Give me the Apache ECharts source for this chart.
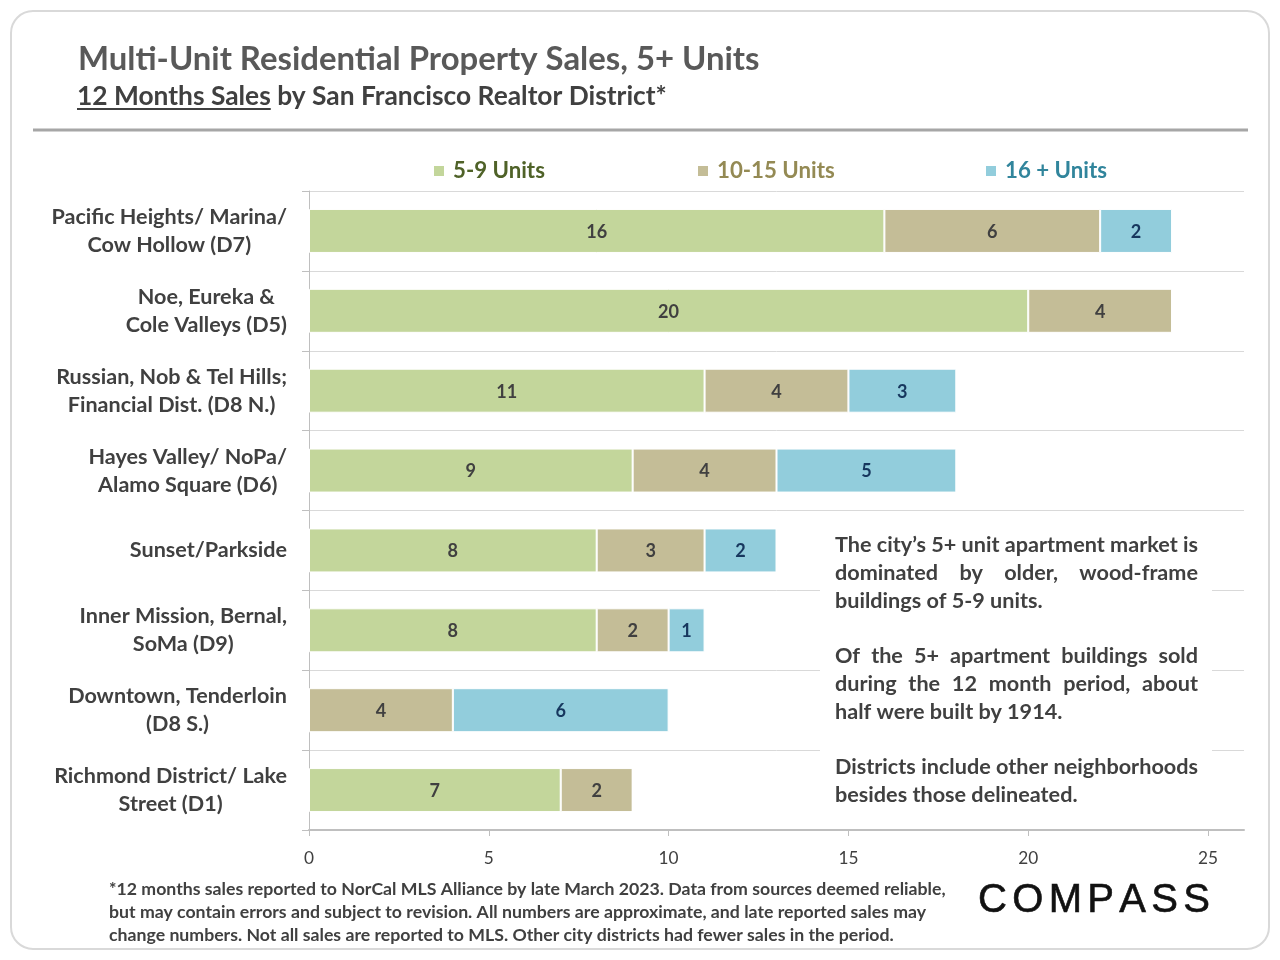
<!DOCTYPE html>
<html><head><meta charset="utf-8">
<script src="https://cdn.jsdelivr.net/npm/echarts@6/dist/echarts.min.js"></script>
<style>html,body{margin:0;padding:0;background:#fff}#c{width:1280px;height:960px}</style>
</head><body><div id="c"></div>
<script>
const categories = ["Pacific Heights/ Marina/\nCow Hollow (D7)", "Noe, Eureka &\nCole Valleys (D5)", "Russian, Nob & Tel Hills;\nFinancial Dist. (D8 N.)", "Hayes Valley/ NoPa/\nAlamo Square (D6)", "Sunset/Parkside", "Inner Mission, Bernal,\nSoMa (D9)", "Downtown, Tenderloin\n(D8 S.)", "Richmond District/ Lake\nStreet (D1)"];
const units5to9   = [16, 20, 11, 9, 8, 8, 0, 7];
const units10to15 = [6, 4, 4, 4, 3, 2, 4, 2];
const units16plus = [2, 0, 3, 5, 2, 1, 6, 0];
const seriesNames = ["5-9 Units", "10-15 Units", "16 + Units"];
const xTicks = [0, 5, 10, 15, 20, 25];
const titleText = "Multi-Unit Residential Property Sales, 5+ Units";
const subUnderlined = "12 Months Sales";
const subRest = " by San Francisco Realtor District*";
const noteParas = [
  ["The city\u2019s 5+ unit apartment market is", "dominated by older, wood-frame", "buildings of 5-9 units."],
  ["Of the 5+ apartment buildings sold", "during the 12 month period, about", "half were built by 1914."],
  ["Districts include other neighborhoods", "besides those delineated."]
];
const footLines = [
  "*12 months sales reported to NorCal MLS Alliance by late March 2023. Data from sources deemed reliable,",
  "but may contain errors and subject to revision. All numbers are approximate, and late reported sales may",
  "change numbers. Not all sales are reported to MLS. Other city districts had fewer sales in the period."
];

const F = 'Lato';
const colors = ['#c3d69b', '#c4bd97', '#92cddc'];
const legendColors = ['#4f6228', '#948a54', '#31859c'];
const labelColors = ['#404040', '#404040', '#17375e'];

const cv = document.createElement('canvas').getContext('2d');
function tw(text, size, weight) { cv.font = weight + ' ' + size + 'px ' + F; return cv.measureText(text).width; }
function fit(text, weight, target) { return 100 * target / tw(text, 100, weight); }

const graphics = [];
function T(text, x, y, size, weight, fill, align, z) {
  graphics.push({ type: 'text', z: z || 100, style: { text, x, y, fontSize: size, fontFamily: F, fontWeight: weight, fill, textAlign: align || 'left', align: align || 'left', textVerticalAlign: 'middle', verticalAlign: 'middle' } });
}
// card
graphics.push({ type: 'rect', z: 1, shape: { x: 11, y: 11, width: 1258, height: 938, r: 22 }, style: { fill: 'none', stroke: '#d9d9d9', lineWidth: 2 } });
// title
const titleSize = fit(titleText, 'bold', 682);
T(titleText, 78, 59, titleSize, 'bold', '#595959');
const subSize = fit(subUnderlined + subRest, 'bold', 590);
T(subUnderlined + subRest, 77, 96, subSize, 'bold', '#404040');
const ulW = tw(subUnderlined, subSize, 'bold');
graphics.push({ type: 'line', z: 100, shape: { x1: 77, y1: 109, x2: 77 + ulW, y2: 109 }, style: { stroke: '#404040', lineWidth: 2 } });
graphics.push({ type: 'line', z: 100, shape: { x1: 33, y1: 130, x2: 1248, y2: 130 }, style: { stroke: '#a6a6a6', lineWidth: 3 } });

// annotation box
graphics.push({ type: 'rect', z: 90, shape: { x: 820, y: 523, width: 392, height: 296 }, style: { fill: '#fff' } });
const noteSize = fit(noteParas[2][0], 'bold', 363);
const noteL = 835, noteR = 1198;
const paraY = [545, 656, 767];
noteParas.forEach((para, pi) => {
  para.forEach((line, li) => {
    const y = paraY[pi] + li * 28;
    const last = li === para.length - 1;
    if (last) { T(line, noteL, y, noteSize, 'bold', '#404040'); return; }
    const words = line.split(' ');
    const widths = words.map(w => tw(w, noteSize, 'bold'));
    const tot = widths.reduce((a, b) => a + b, 0);
    const gap = (noteR - noteL - tot) / (words.length - 1);
    let x = noteL;
    words.forEach((w, i) => { T(w, x, y, noteSize, 'bold', '#404040'); x += widths[i] + gap; });
  });
});

// footnote
const footSize = fit(footLines[0], 'bold', 837);
footLines.forEach((l, i) => T(l, 109, 889 + i * 23, footSize, 'bold', '#404040'));

// COMPASS logo with letter spacing
(function () {
  const word = 'COMPASS', size = 40, wt = 'normal';
  cv.font = wt + ' ' + size + 'px "Liberation Sans"';
  const ws = word.split('').map(c => cv.measureText(c).width);
  const tot = ws.reduce((a, b) => a + b, 0);
  const sp = (232 - tot) / (word.length - 1);
  let x = 978;
  word.split('').forEach((c, i) => {
    graphics.push({ type: 'text', z: 100, style: { text: c, x, y: 901, fontSize: size, fontFamily: 'Liberation Sans', fontWeight: wt, fill: '#111', stroke: '#111', lineWidth: 0.6, textAlign: 'left', align: 'left', textVerticalAlign: 'middle', verticalAlign: 'middle' } });
    x += ws[i] + sp;
  });
})();

const catSize = fit('Russian, Nob & Tel Hills;', 'bold', 231);
const barLabelSize = fit('20', 'bold', 21);
const axisLabelSize = fit('10', 'normal', 20);
const legendSize = fit(seriesNames[0], 'bold', 92);

const seriesData = [units5to9, units10to15, units16plus];
const chart = echarts.init(document.getElementById('c'), null, { renderer: 'canvas' });
const legendLefts = [427, 691, 979];
chart.setOption({
  animation: false,
  backgroundColor: '#fff',
  grid: { left: 309, right: 36, top: 191, bottom: 130, containLabel: false },
  legend: seriesNames.map((n, i) => ({
    data: [{ name: n, textStyle: { color: legendColors[i] } }],
    left: legendLefts[i], top: 155, itemWidth: 12, itemHeight: 12, icon: 'rect',
    selectedMode: false,
    textStyle: { fontSize: legendSize, fontWeight: 'bold', fontFamily: F, color: legendColors[i], padding: [0, 0, 0, 3] }
  })),
  xAxis: {
    type: 'value', min: 0, max: 26, interval: 5,
    axisLine: { show: true, lineStyle: { color: '#bfbfbf', width: 2 } },
    axisTick: { show: true, length: 6, customValues: xTicks, lineStyle: { color: '#bfbfbf' } },
    axisLabel: { customValues: xTicks, margin: 20, fontSize: axisLabelSize, fontFamily: F, color: '#404040' },
    splitLine: { show: false }
  },
  yAxis: {
    type: 'category', inverse: true, data: categories,
    axisLine: { show: true, lineStyle: { color: '#bfbfbf', width: 1 } },
    axisTick: { show: true, length: 7, lineStyle: { color: '#bfbfbf' } },
    splitLine: { show: true, lineStyle: { color: '#d9d9d9', width: 1 } },
    axisLabel: {
      margin: 22, align: 'right',
      formatter: v => v.split('\n').map(l => '{c|' + l + '}').join('\n'),
      rich: { c: { align: 'center', fontSize: catSize, lineHeight: 28, fontWeight: 'bold', fontFamily: F, color: '#404040' } }
    }
  },
  series: seriesNames.map((n, i) => ({
    name: n, type: 'bar', stack: 'total', data: seriesData[i], barWidth: 44,
    itemStyle: { color: colors[i], borderColor: '#fff', borderWidth: 1 },
    label: { show: true, position: 'inside', offset: [0, 1], formatter: p => p.value ? String(p.value) : '', fontSize: barLabelSize, fontWeight: 'bold', fontFamily: F, color: labelColors[i] }
  })),
  graphic: { elements: graphics }
});
</script></body></html>
